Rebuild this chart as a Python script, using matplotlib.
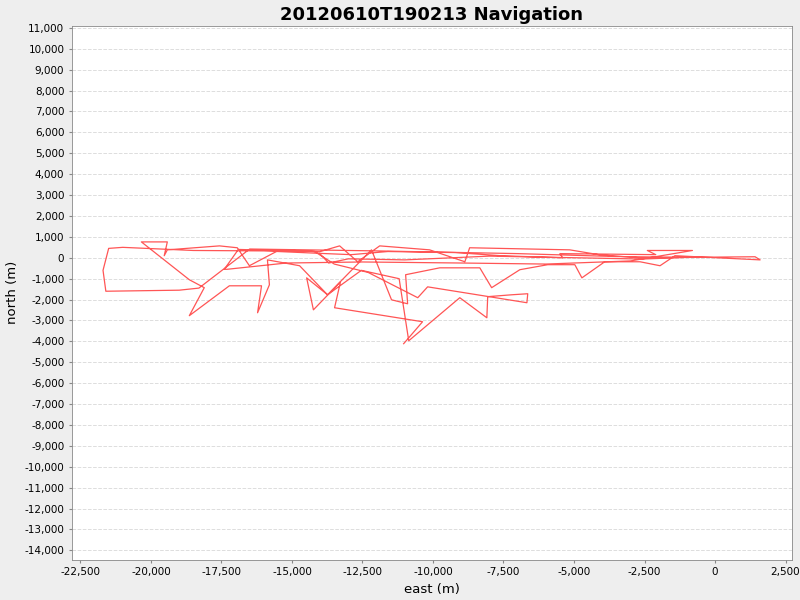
import matplotlib.pyplot as plt
from matplotlib.ticker import FuncFormatter, MultipleLocator

# navigation track, metres
east = [-11040, -10370, -13490, -13280, -14240, -14480, -13740, -12180, -11470, -10900,
        -10970, -9760, -8340, -7920, -6920, -5930, -4970, -4720, -3910, -2660,
        -1950, -1420, 1600, 1420, -2660, -4080, -5150, -8700, -8870, -10120,
        -11890, -12670, -13310, -14020, -15440, -16510, -16940, -17570, -19420, -19530,
        -19420, -20340, -18640, -18110, -18640, -17220, -16080, -16220, -15800, -15870,
        -14730, -13740, -12540, -11200, -10860, -9050, -8090, -8060, -7210, -6640,
        -6670, -10190, -10540, -12300, -13500, -14200, -15600, -16900, -17400, -17300,
        -15200, -12500, -9000, -6000, -3000, -800, -2400, -2100, -5500, -5400,
        -7600, -9200, -11600, -12900, -13800, -16000, -18500, -21000, -21500, -21700,
        -21600, -19000, -18300, -16500, -12000, -7000, -3500, -1000, -2600, -4500,
        -8000, -11000, -13000, -13700, -14000]
north = [-4110, -3060, -2390, -1150, -2490, -960, -1770, 380, -2010, -2200,
         -810, -480, -480, -1430, -570, -330, -330, -960, -190, -190,
         -380, 100, -100, 50, 0, 140, 380, 480, -190, 380,
         570, -190, 570, 290, 380, -380, 480, 570, 380, 100,
         760, 760, -1050, -1430, -2770, -1340, -1340, -2630, -1290, -100,
         -380, -1770, -600, -1000, -3970, -1910, -2870, -1860, -1770, -1720,
         -2150, -1390, -1910, -700, -300, 300, 350, 400, -550, -550,
         -250, -200, -250, -300, -150, 350, 350, 150, 200, 0,
         100, 250, 300, 150, 200, 330, 350, 500, 450, -600,
         -1600, -1550, -1450, 420, 330, 200, 60, 20, -60, -10,
         80, -100, -50, -250, 180]

x_ticks = list(range(-22500, 2501, 2500))

fig = plt.figure(figsize=(8, 6), dpi=100, facecolor='#eeeeee')
ax = fig.add_axes([0.09, 0.067, 0.9, 0.89])
ax.set_facecolor('white')
ax.plot(east, north, color='#ff5555', lw=0.9)

ax.set_xlim(-22800, 2730)
ax.set_ylim(-14450, 11100)
ax.set_xticks(x_ticks)
ax.yaxis.set_major_locator(MultipleLocator(1000))
fmt = FuncFormatter(lambda v, p: f'{int(v):,}')
ax.xaxis.set_major_formatter(fmt)
ax.yaxis.set_major_formatter(fmt)
ax.tick_params(labelsize=7.5, length=2, color='#888888')
ax.yaxis.grid(True, color='#dddddd', linestyle='--', lw=0.7)
for s in ax.spines.values():
    s.set_color('#888888')
    s.set_linewidth(0.6)

ax.set_xlabel('east (m)', fontsize=9.5)
ax.set_ylabel('north (m)', fontsize=9.5)
ax.set_title('20120610T190213 Navigation', fontsize=13, fontweight='bold', pad=4)

fig.savefig('out.png', facecolor=fig.get_facecolor())
